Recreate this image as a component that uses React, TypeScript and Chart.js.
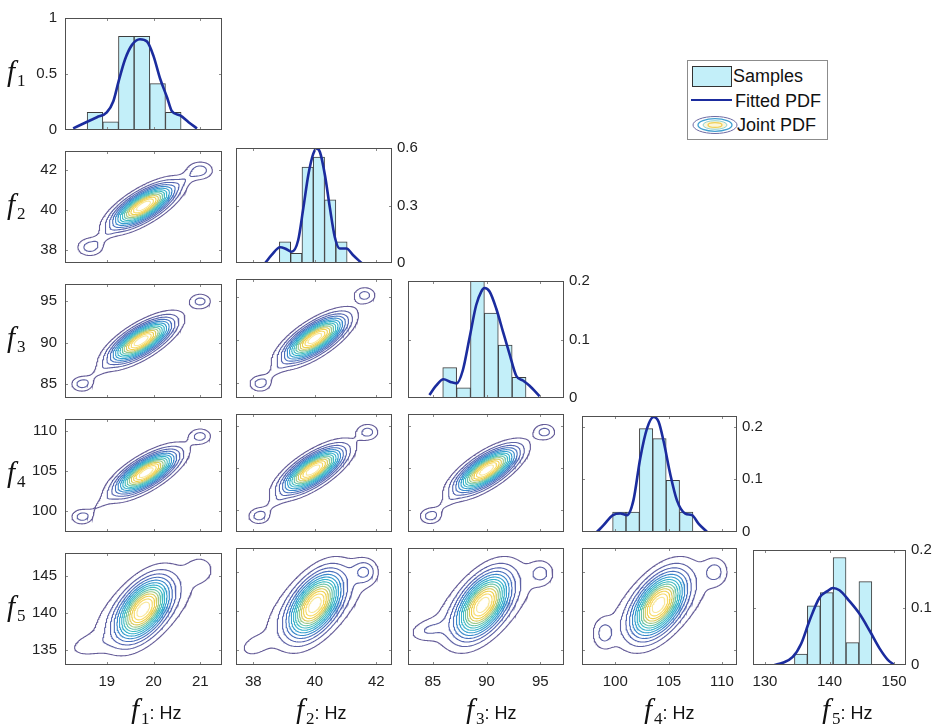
import React, { useEffect, useRef } from "react";
import { Chart, registerables } from "chart.js";

Chart.register(...registerables);

// ---------------- axis limits & ticks ----------------
const f1Lim = [18.106, 21.465];
const f2Lim = [37.44, 42.51];
const f3Lim = [82.7, 97.2];
const f4Lim = [96.88, 111.41];
const f5Lim = [128.15, 151.85];
const colLims = [f1Lim, f2Lim, f3Lim, f4Lim, f5Lim];

const f2RowLim = [37.37, 42.92];
const f3RowLim = [83.3, 97.1];
const f4RowLim = [97.3, 111.5];
const f5RowLim = [133.0, 148.15];
const rowLims = [[0, 1], f2RowLim, f3RowLim, f4RowLim, f5RowLim];

const f1Ticks = [19, 20, 21];
const f2Ticks = [38, 40, 42];
const f3Ticks = [85, 90, 95];
const f4Ticks = [100, 105, 110];
const f5Ticks = [130, 140, 150];
const f5RowTicks = [135, 140, 145];
const colTicks = [f1Ticks, f2Ticks, f3Ticks, f4Ticks, f5Ticks];
const rowTicks = [[0, 0.5, 1], f2Ticks, f3Ticks, f4Ticks, f5RowTicks];

// ---------------- histograms (Samples) ----------------
const f1Edges = [18.58, 18.915, 19.25, 19.585, 19.92, 20.255, 20.59];
const f1Heights = [0.157, 0.074, 0.837, 0.837, 0.414, 0.157];
const f2Edges = [38.85, 39.217, 39.584, 39.951, 40.318, 40.685, 41.052];
const f2Heights = [0.11, 0.051, 0.5, 0.553, 0.33, 0.11];
const f3Edges = [85.93, 87.22, 88.51, 89.8, 91.09, 92.38, 93.67];
const f3Heights = [0.052, 0.0175, 0.21, 0.145, 0.0905, 0.0354];
const f4Edges = [99.75, 101.005, 102.26, 103.515, 104.77, 106.025, 107.28];
const f4Heights = [0.038, 0.038, 0.196, 0.177, 0.098, 0.038];
const f5Edges = [134.57, 136.57, 138.57, 140.56, 142.56, 144.56, 146.56];
const f5Heights = [0.019, 0.103, 0.126, 0.187, 0.039, 0.145];

const histYLims = [[0, 1], [0, 0.6], [0, 0.2], [0, 0.22], [0, 0.2]];
const histYTicks = [[0, 0.5, 1], [0, 0.3, 0.6], [0, 0.1, 0.2], [0, 0.1, 0.2], [0, 0.1, 0.2]];

// ---------------- fitted PDFs ----------------
const f1PdfX = [18.28, 18.57, 18.79, 19.0, 19.14, 19.25, 19.39, 19.54, 19.71, 19.86, 20.0, 20.14, 20.29, 20.39, 20.57, 20.75, 20.93];
const f1PdfY = [0.014, 0.071, 0.114, 0.157, 0.257, 0.43, 0.63, 0.76, 0.81, 0.79, 0.66, 0.46, 0.29, 0.17, 0.13, 0.07, 0.014];
const f2PdfX = [38.39, 38.6, 38.87, 39.03, 39.25, 39.46, 39.63, 39.79, 39.95, 40.06, 40.17, 40.33, 40.49, 40.65, 40.81, 41.03, 41.24, 41.52];
const f2PdfY = [0, 0.042, 0.082, 0.076, 0.059, 0.119, 0.289, 0.459, 0.569, 0.598, 0.578, 0.459, 0.289, 0.136, 0.076, 0.076, 0.042, 0];
const f3PdfX = [84.69, 85.31, 86.0, 86.71, 87.23, 87.79, 88.42, 89.04, 89.51, 89.81, 90.28, 90.9, 91.52, 92.14, 92.76, 93.38, 94.0, 94.93];
const f3PdfY = [0.005, 0.021, 0.032, 0.027, 0.025, 0.047, 0.103, 0.159, 0.182, 0.188, 0.182, 0.153, 0.114, 0.075, 0.038, 0.03, 0.021, 0.003];
const f4PdfX = [98.28, 98.9, 99.78, 100.47, 101.1, 101.7, 102.34, 102.97, 103.59, 104.06, 104.53, 105.15, 105.78, 106.56, 107.19, 107.8, 108.6];
const f4PdfY = [0, 0.013, 0.032, 0.035, 0.032, 0.06, 0.14, 0.196, 0.218, 0.209, 0.172, 0.11, 0.06, 0.035, 0.032, 0.016, 0];
const f5PdfX = [131.47, 132.76, 134.31, 135.61, 136.9, 138.45, 139.74, 140.51, 141.55, 143.1, 144.65, 146.2, 147.75, 149.04, 149.92];
const f5PdfY = [0, 0.004, 0.014, 0.037, 0.077, 0.117, 0.129, 0.134, 0.13, 0.111, 0.089, 0.06, 0.029, 0.009, 0.001];

const histEdges = [f1Edges, f2Edges, f3Edges, f4Edges, f5Edges];
const histHeights = [f1Heights, f2Heights, f3Heights, f4Heights, f5Heights];
const pdfXs = [f1PdfX, f2PdfX, f3PdfX, f4PdfX, f5PdfX];
const pdfYs = [f1PdfY, f2PdfY, f3PdfY, f4PdfY, f5PdfY];

// ---------------- joint PDF components: [meanX, meanY, sdX, sdY, rho, peak] ----------------
const joint21 = [
  [19.785, 40.2, 0.403, 0.645, 0.72, 1],
  [18.642, 38.155, 0.193, 0.306, 0, 0.16],
  [21.0, 41.953, 0.193, 0.306, 0, 0.16],
  [18.962, 38.728, 0.205, 0.379, 0.837, 0.05],
  [20.66, 41.462, 0.214, 0.354, 0.829, 0.05],
];
const joint31 = [
  [19.735, 90.23, 0.403, 1.593, 0.72, 1],
  [18.47, 85.0, 0.161, 0.64, 0, 0.16],
  [21.0, 95.0, 0.161, 0.64, 0, 0.16],
  [18.824, 86.464, 0.205, 0.937, 0.837, 0.05],
];
const joint32 = [
  [40.005, 90.2, 0.608, 1.593, 0.72, 1],
  [38.225, 84.97, 0.243, 0.64, 0, 0.16],
  [41.623, 95.23, 0.243, 0.64, 0, 0.16],
  [38.723, 86.434, 0.309, 0.937, 0.837, 0.05],
];
const joint41 = [
  [19.842, 104.76, 0.403, 1.651, 0.72, 1],
  [18.47, 99.22, 0.161, 0.663, 0, 0.16],
  [21.0, 109.34, 0.161, 0.663, 0, 0.16],
  [18.854, 100.771, 0.205, 0.971, 0.837, 0.05],
];
const joint42 = [
  [39.94, 104.76, 0.608, 1.651, 0.72, 1],
  [38.19, 99.22, 0.243, 0.663, 0, 0.16],
  [41.72, 109.34, 0.243, 0.663, 0, 0.16],
  [38.68, 100.771, 0.309, 0.971, 0.837, 0.05],
];
const joint43 = [
  [90.0, 104.76, 1.75, 1.651, 0.72, 1],
  [84.79, 99.22, 0.698, 0.663, 0, 0.16],
  [95.4, 109.34, 0.698, 0.663, 0, 0.16],
  [86.249, 100.771, 0.89, 0.971, 0.837, 0.05],
];
const joint51 = [
  [19.78, 140.52, 0.343, 2.587, 0.5, 1],
  [19.78, 140.52, 0.729, 3.364, 0.6, 0.18],
  [18.6, 135.6, 0.3, 1.03, 0.3, 0.09],
  [21.0, 145.95, 0.214, 1.29, 0, 0.1],
];
const joint52 = [
  [40.005, 140.78, 0.518, 2.587, 0.5, 1],
  [40.005, 140.78, 1.1, 3.364, 0.6, 0.18],
  [38.0, 135.38, 0.39, 1.16, 0.3, 0.08],
  [41.62, 145.08, 0.26, 1.03, 0, 0.21],
];
const joint53 = [
  [89.66, 140.78, 1.49, 2.587, 0.5, 1],
  [89.66, 140.78, 3.166, 3.364, 0.6, 0.18],
  [84.53, 137.54, 1.117, 0.906, 0.3, 0.12],
  [95.09, 144.88, 0.745, 1.03, 0, 0.16],
];
const joint54 = [
  [104.06, 140.78, 1.5, 2.587, 0.5, 1],
  [104.06, 140.78, 3.19, 3.364, 0.6, 0.18],
  [98.91, 137.12, 0.656, 1.29, 0, 0.15],
  [109.38, 145.08, 0.75, 1.16, 0, 0.16],
];
const jointSets: Record<string, number[][]> = {
  "1-0": joint21, "2-0": joint31, "2-1": joint32,
  "3-0": joint41, "3-1": joint42, "3-2": joint43,
  "4-0": joint51, "4-1": joint52, "4-2": joint53, "4-3": joint54,
};
const N_LEVELS = 14;

// ---------------- styling / layout ----------------
const COLS = [
  { l: 65, w: 157 }, { l: 236, w: 156 }, { l: 408, w: 156 }, { l: 582, w: 155 }, { l: 753, w: 153 },
];
const ROWS = [
  { t: 13, h: 117 }, { t: 146, h: 117 }, { t: 279, h: 119 }, { t: 414, h: 118 }, { t: 548, h: 117 },
];
const PADL = 50, PADR = 40, PADT = 12, PADB = 30;
const TICK_FONT = { family: '"Liberation Sans", Arial, sans-serif', size: 15 };
const TEXT = "#222";
const BAR_FILL = "#c3eff9";
const BAR_EDGE = "#3d3d3d";
const PDF_BLUE = "#1b2c9e";
const CMAP = ["#655c98", "#5068b8", "#3590cf", "#35b0cc", "#45bfc0", "#8cc895", "#e0cb58", "#f6d24a", "#f8e79a"];
const CMAP_POS = [0, 0.2, 0.33, 0.45, 0.56, 0.67, 0.78, 0.88, 1];

function hexToRgb(h: string) {
  const n = parseInt(h.slice(1), 16);
  return [(n >> 16) & 255, (n >> 8) & 255, n & 255];
}
function cmap(t: number) {
  for (let i = 0; i < CMAP_POS.length - 1; i++) {
    if (t <= CMAP_POS[i + 1]) {
      const f = (t - CMAP_POS[i]) / (CMAP_POS[i + 1] - CMAP_POS[i]);
      const a = hexToRgb(CMAP[i]), b = hexToRgb(CMAP[i + 1]);
      const c = a.map((v, k) => Math.round(v + f * (b[k] - v)));
      return `rgb(${c[0]},${c[1]},${c[2]})`;
    }
  }
  return CMAP[CMAP.length - 1];
}

function density(comps: number[][], x: number, y: number) {
  let s = 0;
  for (const [mx, my, sx, sy, r, p] of comps) {
    const dx = (x - mx) / sx, dy = (y - my) / sy;
    const q = (dx * dx - 2 * r * dx * dy + dy * dy) / (1 - r * r);
    s += p * Math.exp(-0.5 * q);
  }
  return s;
}

function computeContours(comps: number[][], xr: number[], yr: number[], nLevels: number) {
  const nx = 131, ny = 111;
  const xs: number[] = [], ys: number[] = [];
  for (let i = 0; i < nx; i++) xs.push(xr[0] + ((xr[1] - xr[0]) * i) / (nx - 1));
  for (let j = 0; j < ny; j++) ys.push(yr[0] + ((yr[1] - yr[0]) * j) / (ny - 1));
  const v = new Float64Array(nx * ny);
  let vmax = 0;
  for (let j = 0; j < ny; j++)
    for (let i = 0; i < nx; i++) {
      const d = density(comps, xs[i], ys[j]);
      v[j * nx + i] = d;
      if (d > vmax) vmax = d;
    }
  const out: { x: number; y: number }[][] = [];
  for (let k = 1; k <= nLevels; k++) {
    const L = (vmax * k) / (nLevels + 1);
    const pts = new Map<string, { x: number; y: number }>();
    const segs: [string, string][] = [];
    const edgePt = (t: string, i: number, j: number) => {
      const kk = t + i + "_" + j;
      if (!pts.has(kk)) {
        if (t === "h") {
          const a = v[j * nx + i], b = v[j * nx + i + 1];
          const f = (L - a) / (b - a);
          pts.set(kk, { x: xs[i] + f * (xs[i + 1] - xs[i]), y: ys[j] });
        } else {
          const a = v[j * nx + i], b = v[(j + 1) * nx + i];
          const f = (L - a) / (b - a);
          pts.set(kk, { x: xs[i], y: ys[j] + f * (ys[j + 1] - ys[j]) });
        }
      }
      return kk;
    };
    for (let j = 0; j < ny - 1; j++)
      for (let i = 0; i < nx - 1; i++) {
        const a = v[j * nx + i], b = v[j * nx + i + 1], c = v[(j + 1) * nx + i + 1], d = v[(j + 1) * nx + i];
        const A = a > L, B = b > L, C = c > L, D = d > L;
        const idx = (A ? 1 : 0) | (B ? 2 : 0) | (C ? 4 : 0) | (D ? 8 : 0);
        if (idx === 0 || idx === 15) continue;
        if (idx === 5 || idx === 10) {
          const center = (a + b + c + d) / 4 > L;
          if ((idx === 5) === center) {
            segs.push([edgePt("h", i, j), edgePt("v", i + 1, j)], [edgePt("v", i, j), edgePt("h", i, j + 1)]);
          } else {
            segs.push([edgePt("h", i, j), edgePt("v", i, j)], [edgePt("v", i + 1, j), edgePt("h", i, j + 1)]);
          }
          continue;
        }
        const e: string[] = [];
        if (A !== B) e.push(edgePt("h", i, j));
        if (B !== C) e.push(edgePt("v", i + 1, j));
        if (C !== D) e.push(edgePt("h", i, j + 1));
        if (D !== A) e.push(edgePt("v", i, j));
        if (e.length === 2) segs.push([e[0], e[1]]);
      }
    const adj = new Map<string, number[]>();
    segs.forEach((s, si) => {
      for (const kk of s) {
        if (!adj.has(kk)) adj.set(kk, []);
        adj.get(kk)!.push(si);
      }
    });
    const used = new Uint8Array(segs.length);
    const data: { x: number; y: number }[] = [];
    for (let s0 = 0; s0 < segs.length; s0++) {
      if (used[s0]) continue;
      used[s0] = 1;
      const chain = [segs[s0][0], segs[s0][1]];
      const extend = (atEnd: boolean) => {
        for (;;) {
          const endKey = atEnd ? chain[chain.length - 1] : chain[0];
          const cand = (adj.get(endKey) || []).find((q) => !used[q]);
          if (cand === undefined) break;
          used[cand] = 1;
          const s = segs[cand];
          const nxt = s[0] === endKey ? s[1] : s[0];
          if (atEnd) chain.push(nxt);
          else chain.unshift(nxt);
        }
      };
      extend(true);
      extend(false);
      for (const kk of chain) data.push(pts.get(kk)!);
      data.push({ x: NaN, y: NaN });
    }
    out.push(data);
  }
  return out;
}

const framePlugin = {
  id: "frame",
  afterDatasetsDraw(chart: any) {
    const { ctx, chartArea: a, scales } = chart;
    ctx.save();
    ctx.strokeStyle = "#8a8a8a";
    ctx.lineWidth = 1;
    ctx.beginPath();
    for (const t of scales.x.ticks) {
      const px = Math.round(scales.x.getPixelForValue(t.value)) + 0.5;
      if (px < a.left + 1 || px > a.right - 1) continue;
      ctx.moveTo(px, a.bottom);
      ctx.lineTo(px, a.bottom - 3);
      ctx.moveTo(px, a.top);
      ctx.lineTo(px, a.top + 3);
    }
    for (const t of scales.y.ticks) {
      const py = Math.round(scales.y.getPixelForValue(t.value)) + 0.5;
      if (py < a.top + 1 || py > a.bottom - 1) continue;
      ctx.moveTo(a.left, py);
      ctx.lineTo(a.left + 3, py);
      ctx.moveTo(a.right, py);
      ctx.lineTo(a.right - 3, py);
    }
    ctx.stroke();
    ctx.strokeStyle = "#505050";
    ctx.strokeRect(a.left + 0.5, a.top + 0.5, a.right - a.left - 1, a.bottom - a.top - 1);
    ctx.restore();
  },
};

function axes(xLim: number[], xT: number[], showX: boolean, yLim: number[], yT: number[], showY: boolean, yPos: string) {
  return {
    x: {
      type: "linear",
      min: xLim[0],
      max: xLim[1],
      offset: false,
      afterBuildTicks: (s: any) => { s.ticks = xT.map((v) => ({ value: v })); },
      afterFit: (s: any) => { s.height = PADB; },
      grid: { display: false, drawTicks: false },
      border: { display: false },
      ticks: { display: showX, font: TICK_FONT, color: TEXT, padding: 8, maxRotation: 0, autoSkip: false, callback: (v: any) => String(v) },
    },
    y: {
      type: "linear",
      position: yPos,
      min: yLim[0],
      max: yLim[1],
      afterBuildTicks: (s: any) => { s.ticks = yT.map((v) => ({ value: v })); },
      afterFit: (s: any) => { s.width = yPos === "left" ? PADL : PADR; },
      grid: { display: false, drawTicks: false },
      border: { display: false },
      ticks: { display: showY, font: TICK_FONT, color: TEXT, padding: yPos === "left" ? 8 : 5, autoSkip: false, callback: (v: any) => String(v) },
    },
  };
}

function baseOptions(yPos: string, scales: any) {
  return {
    responsive: false,
    animation: false,
    events: [],
    layout: { padding: { top: PADT, bottom: 0, left: yPos === "right" ? PADL : 0, right: yPos === "left" ? PADR : 0 } },
    plugins: { legend: { display: false }, tooltip: { enabled: false } },
    scales,
  };
}

function histConfig(k: number): any {
  const edges = histEdges[k], heights = histHeights[k];
  const bars = heights.map((h, i) => ({ x: (edges[i] + edges[i + 1]) / 2, y: h }));
  const pdf = pdfXs[k].map((x, i) => ({ x, y: pdfYs[k][i] }));
  const yPos = k === 0 ? "left" : "right";
  return {
    type: "scatter",
    data: {
      datasets: [
        {
          type: "line", data: pdf, borderColor: PDF_BLUE, borderWidth: 2.6, pointRadius: 0,
          cubicInterpolationMode: "monotone", fill: false, order: 0,
        },
        {
          type: "bar", data: bars, backgroundColor: BAR_FILL, borderColor: BAR_EDGE, borderWidth: 1,
          barPercentage: 1, categoryPercentage: 1, order: 1,
        },
      ],
    },
    options: baseOptions(yPos, axes(colLims[k], colTicks[k], k === 4, histYLims[k], histYTicks[k], true, yPos)),
    plugins: [framePlugin],
  };
}

function jointConfig(r: number, c: number): any {
  const comps = jointSets[r + "-" + c];
  const xLim = colLims[c], yLim = rowLims[r];
  const lines = computeContours(comps, xLim, yLim, N_LEVELS);
  const datasets = lines.map((data, k) => ({
    data, showLine: true, borderColor: cmap(k / (N_LEVELS - 1)), borderWidth: 1.1,
    pointRadius: 0, spanGaps: false, tension: 0, fill: false,
  }));
  return {
    type: "scatter",
    data: { datasets },
    options: baseOptions("left", axes(xLim, colTicks[c], r === 4, yLim, rowTicks[r], c === 0, "left")),
    plugins: [framePlugin],
  };
}

function Panel({ r, c }: { r: number; c: number }) {
  const ref = useRef<HTMLCanvasElement>(null);
  const W = COLS[c].w + PADL + PADR;
  const H = ROWS[r].h + PADT + PADB;
  useEffect(() => {
    const cfg = r === c ? histConfig(r) : jointConfig(r, c);
    const chart = new Chart(ref.current as HTMLCanvasElement, cfg);
    return () => chart.destroy();
  }, [r, c]);
  return (
    <canvas
      ref={ref}
      width={W}
      height={H}
      style={{ position: "absolute", left: COLS[c].l - PADL, top: ROWS[r].t - PADT, width: W, height: H }}
    />
  );
}

function FSym({ n, hz }: { n: number; hz?: boolean }) {
  return (
    <span style={{ whiteSpace: "nowrap", color: "#111" }}>
      <span style={{ fontFamily: '"Liberation Serif", serif', fontStyle: "italic", fontSize: 29 }}>f</span>
      <span style={{ fontFamily: '"Liberation Serif", serif', fontSize: 17, position: "relative", top: 5, marginLeft: 2 }}>{n}</span>
      {hz ? <span style={{ fontFamily: '"Liberation Sans", Arial, sans-serif', fontSize: 18 }}>: Hz</span> : null}
    </span>
  );
}

const rowLabelTop = [56, 189, 322, 457, 591];
const colLabelLeft = [131, 296, 466, 644, 822];

function Legend() {
  const font = '"Liberation Sans", Arial, sans-serif';
  const txt = (label: string, left: number, top: number) => (
    <div style={{ position: "absolute", left, top, fontFamily: font, fontSize: 18, lineHeight: "20px", color: "#111", whiteSpace: "nowrap" }}>{label}</div>
  );
  return (
    <>
      <div style={{ position: "absolute", left: 687, top: 60, width: 139, height: 78, border: "1px solid #8c8c8c", background: "#fff" }} />
      <div style={{ position: "absolute", left: 692, top: 66, width: 38, height: 19, background: BAR_FILL, border: "1px solid #333" }} />
      {txt("Samples", 733, 66)}
      <div style={{ position: "absolute", left: 691, top: 99, width: 41, height: 2, background: PDF_BLUE }} />
      {txt("Fitted PDF", 735, 91)}
      <svg width={48} height={22} style={{ position: "absolute", left: 691, top: 114 }}>
        <ellipse cx={24} cy={11} rx={22} ry={8.5} fill="none" stroke="#6d6aa2" strokeWidth={1} />
        <ellipse cx={24} cy={11} rx={17} ry={6.3} fill="none" stroke="#3f9fd0" strokeWidth={1.3} />
        <ellipse cx={24} cy={11} rx={12} ry={4.3} fill="#fdf6d8" stroke="#8fd3d6" strokeWidth={1} />
        <ellipse cx={24} cy={11} rx={7} ry={2.4} fill="none" stroke="#f0cf55" strokeWidth={1.3} />
      </svg>
      {txt("Joint PDF", 737, 115)}
    </>
  );
}

export default function App() {
  const panels: { r: number; c: number }[] = [];
  for (let r = 0; r < 5; r++) for (let c = 0; c <= r; c++) panels.push({ r, c });
  return (
    <div style={{ position: "absolute", left: 0, top: 0, width: 938, height: 724, background: "#fff", overflow: "hidden" }}>
      {panels.map((p) => (
        <Panel key={p.r + "-" + p.c} r={p.r} c={p.c} />
      ))}
      {rowLabelTop.map((t, i) => (
        <div key={"rl" + i} style={{ position: "absolute", left: 7, top: t, lineHeight: "30px" }}>
          <FSym n={i + 1} />
        </div>
      ))}
      {colLabelLeft.map((l, i) => (
        <div key={"cl" + i} style={{ position: "absolute", left: l, top: 694, lineHeight: "30px" }}>
          <FSym n={i + 1} hz />
        </div>
      ))}
      <Legend />
    </div>
  );
}
